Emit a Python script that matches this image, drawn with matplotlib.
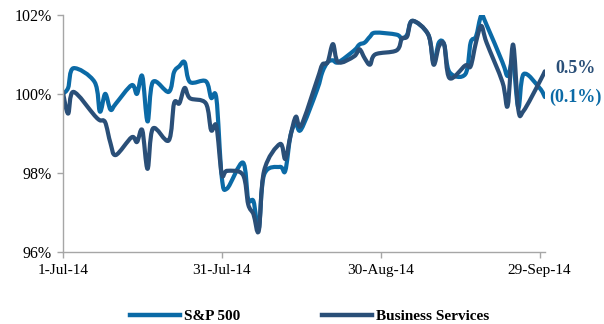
"""
S&P 500 vs Business Services, indexed performance Jul-Sep 2014.
Excel-style smoothed lines drawn as Bezier paths through the data.
"""
import numpy as np
import pandas as pd
import matplotlib
matplotlib.use('Agg')
import matplotlib.pyplot as plt
import matplotlib.dates as mdates
from matplotlib.path import Path
from matplotlib.patches import PathPatch
from matplotlib.lines import Line2D
from matplotlib.ticker import FuncFormatter

# Trading days, 1-Jul-14 .. 30-Sep-14 (US holidays removed)
HOLIDAYS = ['2014-07-04', '2014-09-01']
dates = pd.bdate_range('2014-07-01', '2014-09-30').drop(pd.to_datetime(HOLIDAYS))

# Indexed values (%)
sp500 = [100.0, 100.15, 100.65, 100.3, 99.55, 100.0, 99.6, 99.75,
         100.22, 100.0, 100.45, 99.3, 100.3, 100.05, 100.55, 100.7,
         100.8, 100.3, 100.32, 99.9, 99.88, 97.9,
         97.6, 98.26, 97.33, 97.28, 96.6, 97.95, 98.15, 98.05,
         98.95, 99.25, 99.1, 100.1, 100.55, 100.8, 100.85, 100.8,
         101.1, 101.25, 101.3, 101.45, 101.55,
         101.5, 101.4, 101.5, 101.85, 101.5, 100.8, 101.3, 101.25,
         100.55, 100.5, 101.3, 101.45, 101.98, 101.75, 100.8, 100.45,
         100.8, 99.65, 100.5, 100.15, 99.92]
business = [100.05, 99.5, 100.05, 99.45, 99.33, 99.28, 98.75, 98.45,
            98.9, 98.78, 99.08, 98.1, 99.12, 98.82, 99.76, 99.76,
            100.15, 99.89, 99.76, 99.08, 99.18, 97.97,
            98.05, 97.95, 97.2, 96.95, 96.53, 98.05, 98.73, 98.35,
            98.95, 99.42, 99.2, 100.35, 100.74, 100.8, 101.26, 100.8,
            100.95, 101.13, 100.9, 100.74, 101.0,
            101.1, 101.4, 101.45, 101.85, 101.5, 100.74, 101.2, 101.25,
            100.4, 100.72, 100.7, 101.3, 101.72, 101.3, 100.3, 99.7,
            101.25, 99.6, 99.57, 100.3, 100.57]

SERIES = ['S&P 500', 'Business Services']
COLORS = ['#0B6AA6', '#2A4F78']
END_LABELS = ['(0.1%)', '0.5%']
XTICK_DATES = ['2014-07-01', '2014-07-31', '2014-08-30', '2014-09-29']

SERIF = 'Liberation Serif'


def smooth_path(x, y):
    """Excel-like smoothed line: cubic Bezier through every point."""
    pts = np.column_stack([x, y])
    n = len(pts)
    verts, codes = [pts[0]], [Path.MOVETO]
    for i in range(n - 1):
        p0 = pts[max(i - 1, 0)]
        p1, p2 = pts[i], pts[i + 1]
        p3 = pts[min(i + 2, n - 1)]
        verts += [p1 + (p2 - p0) / 6, p2 - (p3 - p1) / 6, p2]
        codes += [Path.CURVE4] * 3
    return Path(verts, codes)


fig = plt.figure(figsize=(6.04, 3.24), dpi=100, facecolor='white')
ax = fig.add_axes([0.104, 0.223, 0.798, 0.731])

x = mdates.date2num(dates)
for vals, color in zip([sp500, business], COLORS):
    patch = PathPatch(smooth_path(x, np.array(vals)), fill=False,
                      edgecolor=color, lw=3.0, capstyle='round',
                      joinstyle='round', transform=ax.transData)
    ax.add_patch(patch)

# end-of-series labels
for vals, color, lbl, dy in zip([sp500, business], COLORS, END_LABELS, [0, 2]):
    ax.annotate(lbl, xy=(x[-1], vals[-1]), xytext=(22, dy),
                textcoords='offset points', ha='center', va='center',
                color=color, fontsize=13, fontweight='bold',
                family=SERIF, annotation_clip=False)

ax.set_xlim(mdates.date2num(pd.Timestamp('2014-07-01')),
            mdates.date2num(pd.Timestamp('2014-09-30')))
ax.set_ylim(96, 102)
ax.set_yticks([96, 98, 100, 102])
ax.yaxis.set_major_formatter(FuncFormatter(lambda v, _: f'{v:.0f}%'))

tick_dates = pd.to_datetime(XTICK_DATES)
ax.set_xticks(mdates.date2num(tick_dates))
ax.set_xticklabels([f"{d.day}-{d.strftime('%b-%y')}" for d in tick_dates])

for side in ['top', 'right']:
    ax.spines[side].set_visible(False)
for side in ['left', 'bottom']:
    ax.spines[side].set_color('#A6A6A6')
    ax.spines[side].set_linewidth(1.0)
ax.tick_params(colors='#A6A6A6', length=4, width=1, labelcolor='black')
ax.tick_params(axis='x', pad=5, labelsize=11)
ax.tick_params(axis='y', pad=4, labelsize=11.5)
for t in ax.get_xticklabels() + ax.get_yticklabels():
    t.set_family(SERIF)

handles = [Line2D([], [], color=c, lw=3.2) for c in COLORS]
fig.legend(handles, SERIES, loc='center', ncol=2, frameon=False,
           bbox_to_anchor=(0.5125, 0.0235), handlelength=3.3,
           handletextpad=0.25, columnspacing=5.3,
           prop={'family': SERIF, 'weight': 'bold', 'size': 11})

fig.savefig('out.png', dpi=100, facecolor='white')
